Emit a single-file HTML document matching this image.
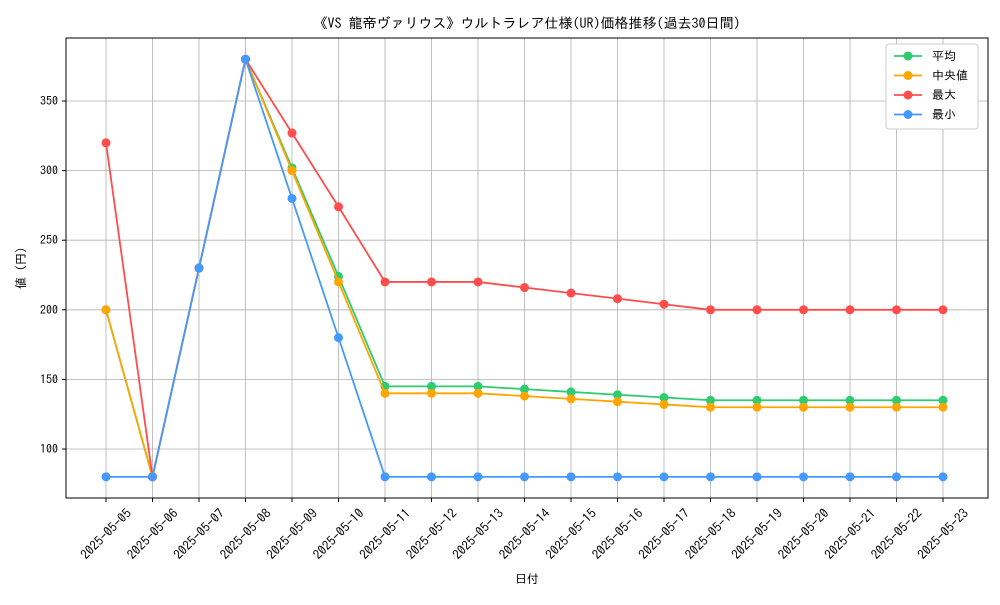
<!DOCTYPE html>
<html><head><meta charset="utf-8"><style>
body{margin:0;background:#fff}
svg text{font-family:"IPAGothic","Noto Sans CJK JP",sans-serif;fill:#000}
</style></head><body>
<svg id="chart" width="1000" height="600">
<text x="527" y="28" font-size="14" text-anchor="middle">《VS 龍帝ヴァリウス》ウルトラレア仕様(UR)価格推移(過去30日間)</text>
<g id="grid"></g><g id="axes"></g><g id="series"></g>
<rect x="66" y="38" width="922" height="460" fill="none" stroke="#000" stroke-width="1"/>
<text x="527" y="583" font-size="12" text-anchor="middle">日付</text>
<text transform="translate(25,268) rotate(-90)" font-size="12" text-anchor="middle">値 (円)</text>
<g id="legend"></g>
</svg>
<script>
const dates=["2025-05-05","2025-05-06","2025-05-07","2025-05-08","2025-05-09","2025-05-10","2025-05-11","2025-05-12","2025-05-13","2025-05-14","2025-05-15","2025-05-16","2025-05-17","2025-05-18","2025-05-19","2025-05-20","2025-05-21","2025-05-22","2025-05-23"];
const avgVals=[200,80,230,380,302,224,145,145,145,143,141,139,137,135,135,135,135,135,135];
const medianVals=[200,80,230,380,300,220,140,140,140,138,136,134,132,130,130,130,130,130,130];
const maxVals=[320,80,230,380,327,274,220,220,220,216,212,208,204,200,200,200,200,200,200];
const minVals=[80,80,230,380,280,180,80,80,80,80,80,80,80,80,80,80,80,80,80];
const yTicks=[100,150,200,250,300,350];
const seriesNames=["平均","中央値","最大","最小"];
const seriesColors=["#2ecc71","#ffa500","#ff4d4d","#4499ff"];
const NS="http://www.w3.org/2000/svg";
const xS=i=>106+i*(943-106)/(dates.length-1);
const yS=v=>449-(v-100)*1.392;
function mk(tag,attrs,parent){const e=document.createElementNS(NS,tag);for(const k in attrs)e.setAttribute(k,attrs[k]);parent.appendChild(e);return e;}
const grid=document.getElementById('grid'),axes=document.getElementById('axes'),ser=document.getElementById('series'),leg=document.getElementById('legend');
dates.forEach((d,i)=>{const x=xS(i);
 const l=mk('line',{x1:x,x2:x,y1:38,y2:498,stroke:'#b0b0b0','stroke-width':0.8},grid);
 
 
 const t=mk('line',{x1:x,x2:x,y1:498,y2:502,stroke:'#000'},axes);
 
 
 const tx=mk('text',{x:x,y:534,'font-size':13,'text-anchor':'middle','dominant-baseline':'central',transform:`rotate(-45 ${x} 534)`},axes);
 tx.textContent=d;
 
 
});
yTicks.forEach(v=>{const y=yS(v);
 const l=mk('line',{x1:66,x2:988,y1:y,y2:y,stroke:'#b0b0b0','stroke-width':0.8},grid);
 
 
 const t=mk('line',{x1:62,x2:66,y1:y,y2:y,stroke:'#000'},axes);
 
 
 const tx=mk('text',{x:58,y:y+4,'font-size':12,'text-anchor':'end'},axes);
 tx.textContent=v;
 
 
});
const allSeries=[avgVals,medianVals,maxVals,minVals];
const keys=['avg','median','max','min'];
allSeries.forEach((vals,s)=>{
 const g=mk('g',{},ser);
 
 
 const p=mk('polyline',{points:vals.map((v,i)=>xS(i)+','+yS(v)).join(' '),fill:'none',stroke:seriesColors[s],'stroke-width':1.8},g);
 
 
 vals.forEach((v,i)=>{const c=mk('circle',{cx:xS(i),cy:yS(v),r:4.5,fill:seriesColors[s]},g);
  
  });
});
const lb=mk('rect',{x:886,y:44,width:92,height:85,fill:'#fff',stroke:'#ccc',rx:3},leg);


seriesNames.forEach((n,s)=>{const y=56+s*19.5;
 const g=mk('g',{},leg);
 
 
 mk('line',{x1:894,x2:922,y1:y,y2:y,stroke:seriesColors[s],'stroke-width':1.8},g);
 mk('circle',{cx:908,cy:y,r:4.5,fill:seriesColors[s]},g);
 const t=mk('text',{x:932,y:y+4,'font-size':12},g);t.textContent=(s==1?' ':'')+n;
});
</script>
</body></html>
